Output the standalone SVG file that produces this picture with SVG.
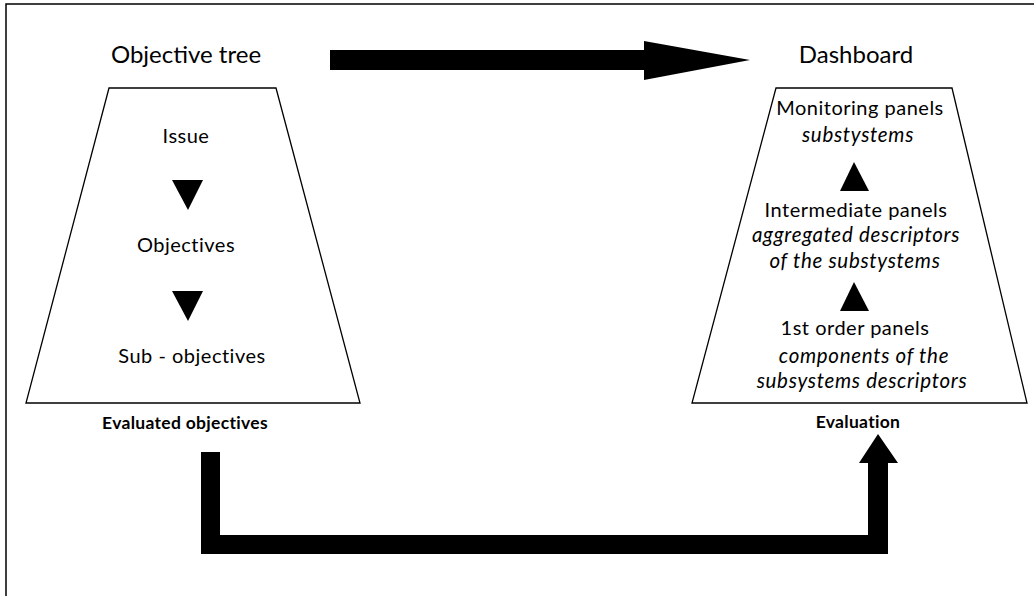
<svg xmlns="http://www.w3.org/2000/svg" width="1034" height="596" viewBox="0 0 1034 596">
<style>
.t{font-family:Lato,"Open Sans",sans-serif;fill:#000;text-anchor:middle}
.title{font-size:24px}
.lbl{font-size:20px;letter-spacing:0.5px}
.it{font-size:20.5px;font-style:italic;letter-spacing:0.7px}
.b{font-size:17.5px;font-weight:bold;letter-spacing:0.3px}
.shape{fill:#fff;stroke:#000;stroke-width:1.3}
.tri{fill:#000}
</style>
<rect x="6" y="4" width="1040" height="610" fill="#fff" stroke="#000" stroke-width="1.5"/>
<g id="objective-tree">
<text class="t title" x="186" y="63">Objective tree</text>
<polygon class="shape" points="109,88 276,88 360,403 26,403"/>
<text class="t lbl" x="186" y="143">Issue</text>
<polygon class="tri" points="172,180 203,180 188,210"/>
<text class="t lbl" x="186" y="252">Objectives</text>
<polygon class="tri" points="172,291 203,291 188,321"/>
<text class="t lbl" x="192" y="363">Sub - objectives</text>
<text class="t b" x="185" y="429">Evaluated objectives</text>
</g>
<g id="dashboard">
<text class="t title" x="856" y="63">Dashboard</text>
<polygon class="shape" points="776,88 952,88 1027,403 692,403"/>
<text class="t lbl" x="860" y="115">Monitoring panels</text>
<text class="t it" x="858" y="142">substystems</text>
<polygon class="tri" points="840,191 869,191 854,162"/>
<text class="t lbl" x="856" y="217">Intermediate panels</text>
<text class="t it" x="856" y="242">aggregated descriptors</text>
<text class="t it" x="855" y="268">of the substystems</text>
<polygon class="tri" points="840,311 869,311 854,282"/>
<text class="t lbl" x="855" y="335">1st order panels</text>
<text class="t it" x="864" y="363">components of the</text>
<text class="t it" x="862" y="388">subsystems descriptors</text>
<text class="t b" x="858" y="428">Evaluation</text>
</g>
<g id="connectors">
<polygon fill="#000" points="330,50 644,50 644,41 750,60 644,80 644,70 330,70"/>
<polygon fill="#000" points="201,452 220,452 220,535 868,535 868,463 859,463 878,434 898,463 888,463 888,554 201,554"/>
</g>
</svg>
